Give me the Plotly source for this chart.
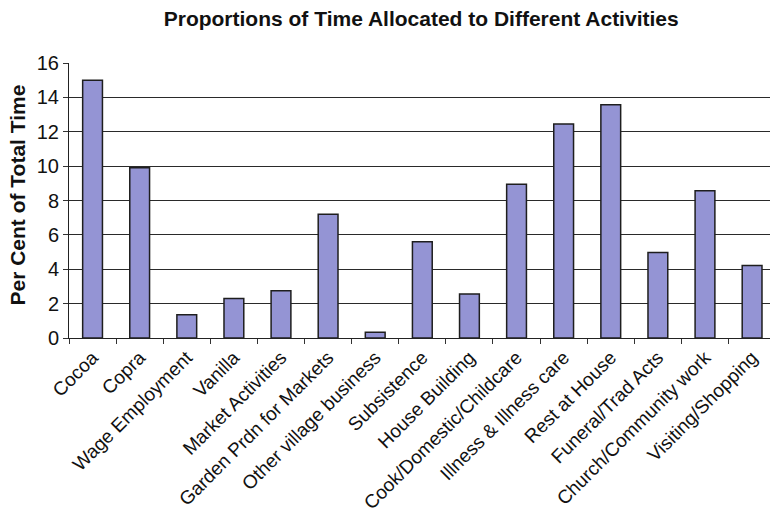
import plotly.graph_objects as go

activities = [
    "Cocoa", "Copra", "Wage Employment", "Vanilla", "Market Activities",
    "Garden Prdn for Markets", "Other village business", "Subsistence",
    "House Building", "Cook/Domestic/Childcare", "Illness & Illness care",
    "Rest at House", "Funeral/Trad Acts", "Church/Community work",
    "Visiting/Shopping",
]
percent_time = [15.0, 9.9, 1.35, 2.3, 2.75, 7.2, 0.33, 5.6,
                2.56, 8.95, 12.45, 13.57, 4.98, 8.57, 4.22]

y_ticks = [0, 2, 4, 6, 8, 10, 12, 14, 16]

font_family = "Liberation Sans, Arial, sans-serif"

fig = go.Figure(
    go.Bar(
        x=activities,
        y=percent_time,
        width=0.42,
        marker=dict(color="#9494d4", line=dict(color="#1e1e1e", width=1.5)),
    )
)

fig.update_layout(
    width=770,
    height=516,
    margin=dict(l=69, r=0, t=63, b=178),
    paper_bgcolor="white",
    plot_bgcolor="white",
    showlegend=False,
    font=dict(family=font_family, color="black"),
    title=dict(
        text="<b>Proportions of Time Allocated to Different Activities</b>",
        x=0.547, xanchor="center", y=0.963, yanchor="middle",
        font=dict(size=21, family=font_family, color="#111"),
    ),
    annotations=[
        dict(
            text="<b>Per Cent of Total Time</b>",
            xref="paper", yref="paper",
            x=-0.073, y=0.521,
            xanchor="center", yanchor="middle",
            textangle=-90, showarrow=False,
            font=dict(size=21, family=font_family, color="#111"),
        )
    ],
)

fig.update_xaxes(
    type="category",
    range=[-0.5, 14.38],
    tickangle=-45,
    tickfont=dict(size=19, color="#111"),
    ticks="outside",
    tickson="boundaries",
    ticklen=5,
    tickcolor="#333",
    showline=True,
    linecolor="#222",
    linewidth=1,
    showgrid=False,
    automargin=False,
)

fig.update_yaxes(
    range=[0, 16],
    tickvals=y_ticks,
    tickfont=dict(size=20, color="#111"),
    ticks="outside",
    ticklen=5,
    tickcolor="#333",
    showline=True,
    linecolor="#222",
    linewidth=1,
    showgrid=True,
    gridcolor="#2a2a2a",
    gridwidth=1,
    zeroline=False,
    automargin=False,
)

fig.write_html("out.html")
